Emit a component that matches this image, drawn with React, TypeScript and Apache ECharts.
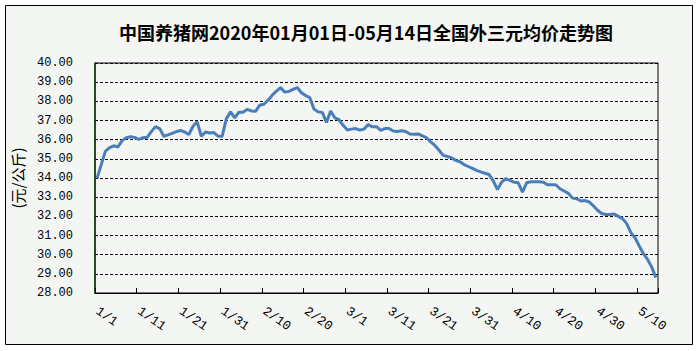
import React, { useEffect, useRef } from "react";
import * as echarts from "echarts";

const titleText = "中国养猪网2020年01月01日-05月14日全国外三元均价走势图";
const yAxisName = "(元/公斤)";
const monthLengths = [31, 29, 31, 30, 14];
const categories: string[] = [];
monthLengths.forEach((len, m) => {
  for (let d = 1; d <= len; d++) categories.push(`${m + 1}/${d}`);
});

const prices = [
  34.0, 34.7, 35.4, 35.58, 35.68, 35.62, 35.95, 36.1, 36.15, 36.12,
  36.02, 36.1, 36.12, 36.42, 36.68, 36.58, 36.18, 36.25, 36.33, 36.42,
  36.48, 36.4, 36.27, 36.7, 36.93, 36.18, 36.4, 36.35, 36.37, 36.18,
  36.18, 37.1, 37.45, 37.14, 37.43, 37.43, 37.58, 37.5, 37.48, 37.8,
  37.85, 38.06, 38.32, 38.53, 38.72, 38.48, 38.52, 38.62, 38.72, 38.45,
  38.3, 38.2, 37.6, 37.45, 37.42, 36.9, 37.5, 37.14, 37.04, 36.75,
  36.5, 36.55, 36.58, 36.5, 36.55, 36.79, 36.67, 36.68, 36.49, 36.58,
  36.58, 36.45, 36.43, 36.47, 36.43, 36.3, 36.28, 36.3, 36.2, 36.1,
  35.88, 35.7, 35.45, 35.18, 35.12, 35.05, 34.92, 34.85, 34.7, 34.6,
  34.5, 34.4, 34.32, 34.25, 34.18, 33.85, 33.4, 33.78, 33.96, 33.88,
  33.78, 33.75, 33.26, 33.75, 33.8, 33.8, 33.8, 33.78, 33.65, 33.65,
  33.65, 33.44, 33.32, 33.2, 32.95, 32.92, 32.8, 32.82, 32.75, 32.55,
  32.32, 32.15, 32.1, 32.1, 32.12, 32.0, 31.88, 31.62, 31.15, 30.88,
  30.45, 30.05, 29.75, 29.35, 28.8,
];

const yMin = 28;
const yMax = 40;
const yStep = 1;

export default function App() {
  const ref = useRef<HTMLDivElement>(null);
  useEffect(() => {
    if (!ref.current) return;
    const chart = echarts.init(ref.current, null, { renderer: "svg" });
    chart.setOption({
      animation: false,
      backgroundColor: "#ffffff",
      graphic: [
        {
          type: "rect",
          z: -10,
          silent: true,
          shape: { x: 5.5, y: 5.5, width: 687, height: 339 },
          style: { fill: "#F4F6F3", stroke: "#000000", lineWidth: 1 },
        },
      ],
      title: {
        text: titleText,
        left: 114,
        top: 18,
        textStyle: {
          fontFamily: "'Noto Sans CJK SC', sans-serif",
          fontSize: 18,
          fontWeight: "bold",
          color: "#000",
        },
      },
      grid: {
        left: 95,
        right: 40,
        top: 63,
        bottom: 58,
        show: true,
        borderColor: "#000",
        borderWidth: 1,
        backgroundColor: "transparent",
      },
      xAxis: {
        type: "category",
        data: categories,
        boundaryGap: true,
        axisLine: { lineStyle: { color: "#000", width: 1 } },
        axisTick: { show: true, inside: true, length: 5, interval: 9, lineStyle: { color: "#000" } },
        axisLabel: {
          interval: 9,
          rotate: -35,
          margin: 17,
          fontFamily: "'Liberation Mono', monospace",
          fontSize: 13,
          color: "#000",
        },
      },
      yAxis: {
        type: "value",
        min: yMin,
        max: yMax,
        interval: yStep,
        name: yAxisName,
        nameLocation: "middle",
        nameRotate: 90,
        nameGap: 70,
        nameTextStyle: {
          fontFamily: "'Noto Sans CJK SC', sans-serif",
          fontSize: 15,
          color: "#000",
        },
        axisLine: { show: true, lineStyle: { color: "#0B3D0B", width: 1.5 } },
        axisTick: { show: false },
        axisLabel: {
          formatter: (v: number) => v.toFixed(2),
          margin: 22,
          fontFamily: "'Liberation Mono', monospace",
          fontSize: 12,
          color: "#000",
        },
        splitLine: {
          show: true,
          lineStyle: { color: "#000", type: [3, 2], width: 1 },
        },
      },
      series: [
        {
          type: "line",
          data: prices,
          symbol: "none",
          smooth: false,
          lineStyle: { color: "#4A7EBB", width: 3 },
        },
      ],
    });
    return () => chart.dispose();
  }, []);
  return (
    <div
      ref={ref}
      style={{ position: "fixed", left: 0, top: 0, width: 698, height: 351 }}
    />
  );
}
